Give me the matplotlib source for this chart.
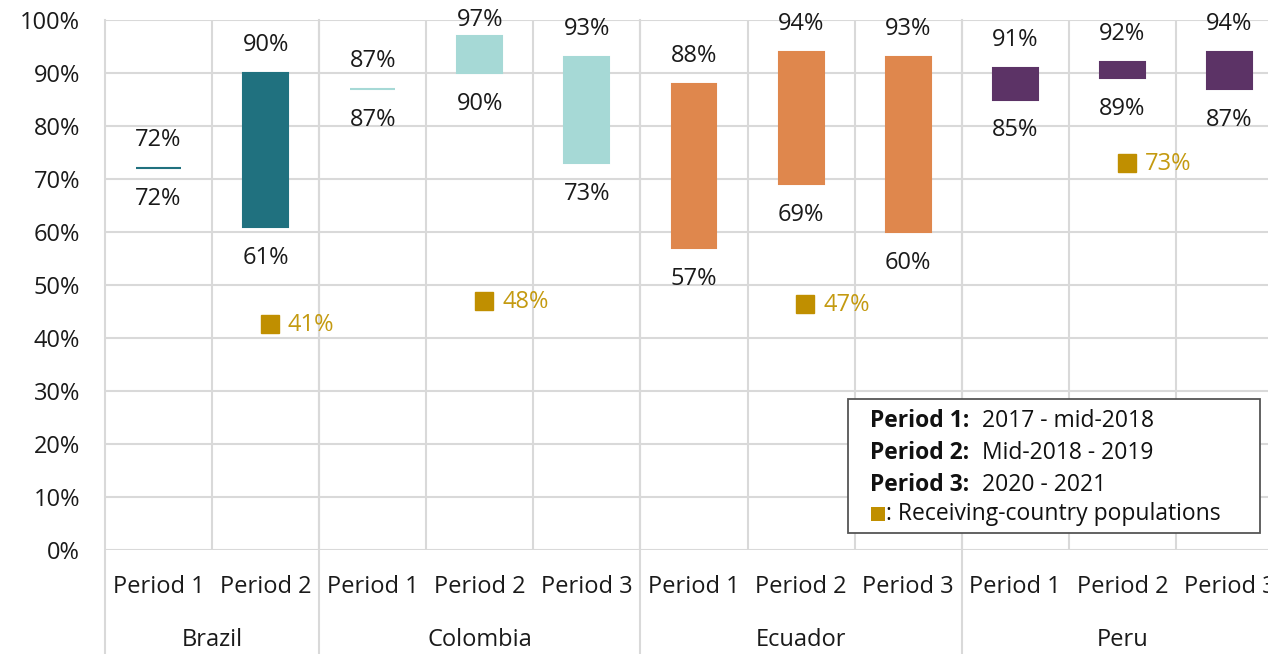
import matplotlib
matplotlib.use("Agg")
import matplotlib.pyplot as plt
import matplotlib.transforms as mtransforms
from matplotlib.patches import Rectangle

plt.rcParams['font.family'] = ['Open Sans', 'DejaVu Sans']

# ---- data ----
periods = ["Period 1", "Period 2", "Period 1", "Period 2", "Period 3",
           "Period 1", "Period 2", "Period 3", "Period 1", "Period 2", "Period 3"]
countries = ["Brazil", "Colombia", "Ecuador", "Peru"]
country_sizes = [2, 3, 3, 3]
low_values = [72, 61, 87, 90, 73, 57, 69, 60, 85, 89, 87]
high_values = [72, 90, 87, 97, 93, 88, 94, 93, 91, 92, 94]
country_colors = ["#20717f", "#a6d9d6", "#df874d", "#5c3366"]
receiving_idx = [1, 3, 6, 9]
receiving_pos = [42.6, 47.0, 46.4, 73.0]
receiving_labels = ["41%", "48%", "47%", "73%"]
yticks = [0, 10, 20, 30, 40, 50, 60, 70, 80, 90, 100]
legend_bold = ["Period 1:", "Period 2:", "Period 3:"]
legend_text = ["2017 - mid-2018", "Mid-2018 - 2019", "2020 - 2021"]
legend_marker_text = ": Receiving-country populations"

W, H = 1268, 654
fig = plt.figure(figsize=(W / 100, H / 100), dpi=100)
ax = fig.add_axes([105 / W, 1 - 550 / H, 1178 / W, 530 / H])

GRID = "#d9d9d9"
GOLD = "#c08f00"
FS = 17
PX_PER_UNIT = 530 / 100

bar_colors = []
for c, n in zip(country_colors, country_sizes):
    bar_colors += [c] * n

x = list(range(len(periods)))
heights = [h - l for h, l in zip(high_values, low_values)]
ax.bar(x, heights, bottom=low_values, width=0.42, color=bar_colors,
       edgecolor=bar_colors, linewidth=1.5, zorder=3)

for xi, lo, hi in zip(x, low_values, high_values):
    top_off = min(28, (100 - hi) * PX_PER_UNIT)
    ax.annotate(f"{hi}%", (xi, hi), xytext=(0, top_off), textcoords="offset pixels",
                ha="center", va="center", fontsize=FS, color="#1a1a1a")
    ax.annotate(f"{lo}%", (xi, lo), xytext=(0, -31), textcoords="offset pixels",
                ha="center", va="center", fontsize=FS, color="#1a1a1a")

for idx, pos, lab in zip(receiving_idx, receiving_pos, receiving_labels):
    ax.plot([idx + 0.04], [pos], marker="s", markersize=12.5, color=GOLD,
            linestyle="none", zorder=4)
    ax.annotate(lab, (idx + 0.04, pos), xytext=(18, -1), textcoords="offset pixels",
                ha="left", va="center", fontsize=FS, color="#c49a10")

ax.set_xlim(-0.5, len(periods) - 0.5)
ax.set_ylim(0, 100)
ax.set_yticks(yticks)
ax.set_yticklabels([f"{t}%" for t in yticks], fontsize=FS, color="#1a1a1a")
ax.tick_params(axis="y", length=0, pad=18)
ax.set_xticks([i + 0.5 for i in range(len(periods) - 1)])
ax.set_xticklabels([])
ax.tick_params(axis="x", length=0)
ax.grid(True, color=GRID, linewidth=1.5, zorder=0)
ax.set_axisbelow(True)
for s in ax.spines.values():
    s.set_visible(False)

trans = mtransforms.blended_transform_factory(ax.transData, ax.transAxes)
for xi, p in zip(x, periods):
    ax.text(xi, -37 / 530, p, transform=trans, ha="center", va="center",
            fontsize=FS, color="#1a1a1a")

start = 0
bounds = [-0.5]
for name, n in zip(countries, country_sizes):
    center = start + (n - 1) / 2
    ax.text(center, -90 / 530, name, transform=trans, ha="center", va="center",
            fontsize=FS, color="#1a1a1a")
    start += n
    bounds.append(start - 0.5)

for b in bounds[:-1]:
    ax.plot([b, b], [-104 / 530, 1], transform=trans, color=GRID, linewidth=1.5,
            clip_on=False, zorder=1)

# legend box
def fx(px):
    return px / W

def fy(py):
    return 1 - py / H

fig.patches.append(Rectangle((fx(848), fy(533)), fx(1260) - fx(848), (533 - 399) / H,
                             transform=fig.transFigure, facecolor="white",
                             edgecolor="#555555", linewidth=1.3, zorder=5))
ys = [421, 453, 485]
for yy, b, t in zip(ys, legend_bold, legend_text):
    fig.text(fx(870), fy(yy), b, fontsize=FS - 0.5, fontweight="bold",
             va="center", ha="left", color="#111111", zorder=6)
    fig.text(fx(982), fy(yy), t, fontsize=FS - 0.5, va="center", ha="left",
             color="#111111", zorder=6)
fig.patches.append(Rectangle((fx(871), fy(521)), 14 / W, 14 / H,
                             transform=fig.transFigure, facecolor=GOLD,
                             edgecolor="none", zorder=6))
fig.text(fx(886), fy(514), legend_marker_text, fontsize=FS - 0.5, va="center",
         ha="left", color="#111111", zorder=6)

fig.savefig("out.png", dpi=100)
